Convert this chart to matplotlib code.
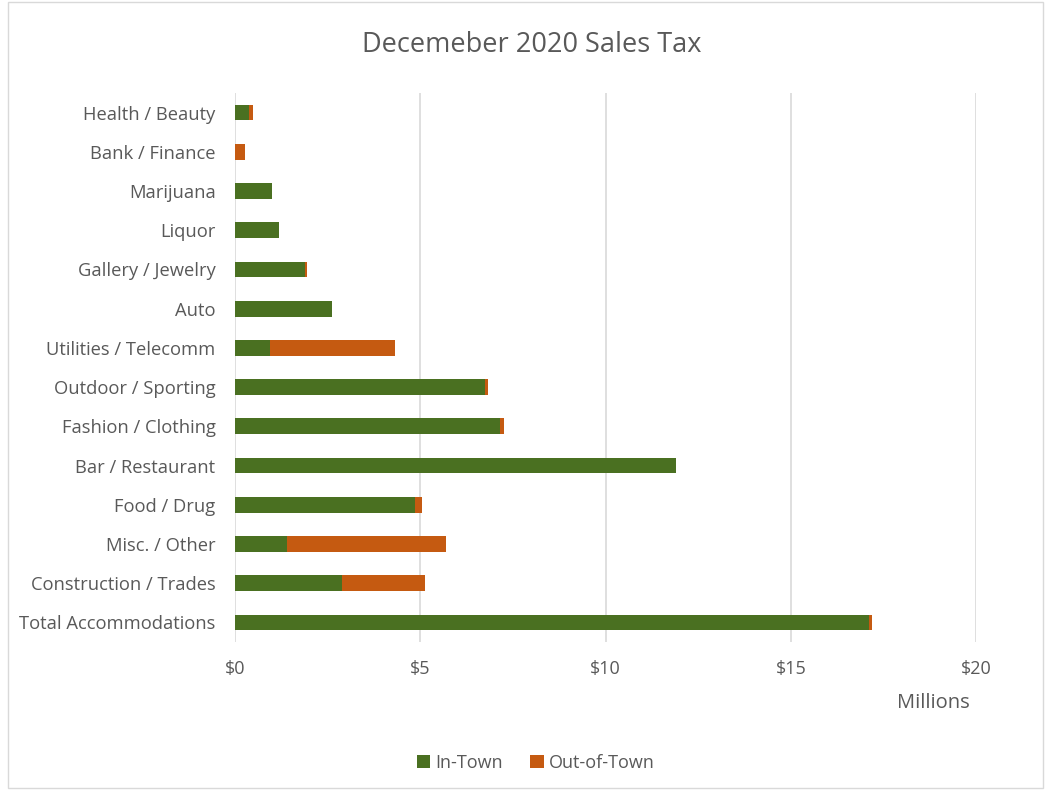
import matplotlib.pyplot as plt
from matplotlib.patches import Rectangle

categories = ["Total Accommodations", "Construction / Trades", "Misc. / Other", "Food / Drug",
              "Bar / Restaurant", "Fashion / Clothing", "Outdoor / Sporting", "Utilities / Telecomm",
              "Auto", "Gallery / Jewelry", "Liquor", "Marijuana", "Bank / Finance", "Health / Beauty"]
in_town = [17.12, 2.88, 1.41, 4.85, 11.91, 7.14, 6.74, 0.95, 2.63, 1.90, 1.19, 1.00, 0.0, 0.39]
out_town = [0.06, 2.24, 4.28, 0.19, 0.0, 0.11, 0.08, 3.38, 0.0, 0.04, 0.0, 0.0, 0.26, 0.10]
xticks = [0, 5, 10, 15, 20]
xticklabels = ["$0", "$5", "$10", "$15", "$20"]

green = "#4A7021"
orange = "#C55A11"
txt = "#595959"

plt.rcParams['font.family'] = ['Open Sans', 'DejaVu Sans']

fig = plt.figure(figsize=(10.45, 7.9), dpi=100)
ax = fig.add_axes([235 / 1045, 1 - 642 / 790, (976 - 235) / 1045, (642 - 93) / 790])

y = range(len(categories))
ax.barh(y, in_town, height=0.4, color=green, label="In-Town", zorder=3)
ax.barh(y, out_town, left=in_town, height=0.4, color=orange, label="Out-of-Town", zorder=3)

ax.set_xlim(0, 20)
ax.set_ylim(-0.5, len(categories) - 0.5)
ax.set_xticks(xticks)
ax.set_xticklabels(xticklabels, fontsize=13, color=txt)
ax.set_yticks(list(y))
ax.set_yticklabels(categories, fontsize=13.2, color=txt)
ax.tick_params(axis='both', length=0)
ax.tick_params(axis='x', pad=13)
ax.tick_params(axis='y', pad=14)
ax.grid(axis='x', color="#D9D9D9", linewidth=1.2, zorder=0)
for s in ax.spines.values():
    s.set_visible(False)

fig.text(532 / 1045, 1 - 45 / 790, "Decemeber 2020 Sales Tax", ha='center', va='center',
         fontsize=19.5, color=txt)
fig.text(933 / 1045, 1 - 703 / 790, "Millions", ha='center', va='center', fontsize=14.5, color=txt)

ax.legend(loc='center', bbox_to_anchor=(536 / 1045, 1 - 763 / 790), bbox_transform=fig.transFigure,
          ncol=2, frameon=False, fontsize=13, labelcolor=txt, handlelength=0.75, handleheight=0.75,
          handletextpad=0.3, columnspacing=1.5)

fig.patches.append(Rectangle((8 / 1045, 0.002), 1 - 8 / 1045 - 0.002, 0.996, transform=fig.transFigure,
                             fill=False, edgecolor="#D9D9D9", linewidth=1))

fig.savefig("out.png", dpi=100)
